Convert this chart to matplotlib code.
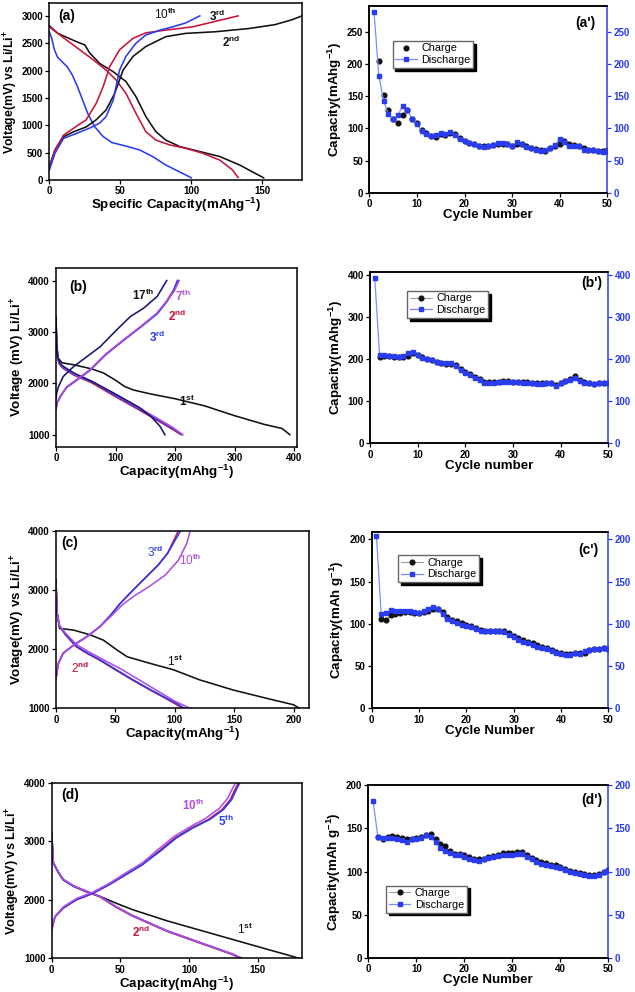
import matplotlib
matplotlib.use('Agg')
import matplotlib.pyplot as plt
from matplotlib.lines import Line2D

plt.rcParams['font.family'] = ['Liberation Sans', 'DejaVu Sans']
plt.rcParams['font.weight'] = 'bold'
plt.rcParams['axes.labelweight'] = 'bold'
plt.rcParams['mathtext.fontset'] = 'custom'
plt.rcParams['mathtext.rm'] = 'Liberation Sans:bold'
plt.rcParams['mathtext.default'] = 'rm'

BLK = '#111111'
RED = '#c8143c'
BLU = '#2a3cf0'
MAG = '#b04ee0'
NAV = '#16166e'
LBLU = '#7f8cff'

# ---------------- (a) voltage profiles ----------------
a2_dis_x = [0, 6, 19, 25, 28.5, 35.5, 45, 54, 61, 68, 75, 82, 92, 106, 120, 134, 143, 151]
a2_dis_y = [2820, 2680, 2530, 2470, 2320, 2130, 1980, 1800, 1525, 1160, 885, 730, 610, 520, 430, 275, 150, 40]
a3_dis_x = [0, 12, 21.5, 31, 40, 47, 54, 61, 68, 75, 85, 96, 108, 120, 129, 133]
a3_dis_y = [2800, 2560, 2380, 2195, 2010, 1830, 1585, 1220, 885, 730, 640, 580, 490, 365, 185, 45]
a10_dis_x = [0, 1.7, 3.6, 5.8, 8.9, 12.6, 16.2, 19.8, 23.4, 27, 31.9, 37.9, 44, 54, 63.6, 73, 82, 91.6, 98.6, 100]
a10_dis_y = [2710, 2590, 2380, 2245, 2165, 2070, 1920, 1710, 1465, 1220, 975, 795, 685, 620, 550, 425, 275, 150, 60, 40]
a2_chg_x = [0, 4, 10, 17, 26, 33, 40, 46, 52, 59, 68, 82, 96, 117, 141, 159, 171, 178]
a2_chg_y = [250, 550, 790, 880, 970, 1100, 1280, 1580, 2010, 2260, 2440, 2620, 2680, 2710, 2770, 2840, 2930, 3000]
a3_chg_x = [0, 4, 10, 19, 26, 33, 38, 42.5, 49.5, 59, 68, 82, 101, 117, 133]
a3_chg_y = [210, 550, 820, 980, 1100, 1400, 1710, 2070, 2380, 2590, 2690, 2740, 2800, 2900, 3000]
a10_chg_x = [0, 4, 10, 19, 28.5, 35.5, 40, 45, 49.5, 54, 61, 68, 78, 87, 96, 106]
a10_chg_y = [180, 490, 760, 850, 950, 1040, 1160, 1460, 2010, 2260, 2500, 2650, 2740, 2800, 2870, 3000]

# ---------------- (b) voltage profiles ----------------
b1_dis_x = [0, 1, 3, 10, 30, 60, 80, 100, 115, 130, 160, 200, 250, 300, 350, 380, 393]
b1_dis_y = [3300, 2800, 2500, 2400, 2360, 2280, 2200, 2060, 1940, 1870, 1790, 1700, 1560, 1370, 1200, 1120, 1000]
b2_dis_x = [0, 1, 3, 6, 12, 30, 60, 100, 140, 170, 195, 210]
b2_dis_y = [3200, 2800, 2480, 2370, 2290, 2160, 2010, 1740, 1480, 1280, 1110, 1000]
b3_dis_x = [0, 1, 3, 6, 12, 30, 60, 100, 140, 170, 195, 212]
b3_dis_y = [3200, 2800, 2480, 2370, 2300, 2170, 2030, 1760, 1500, 1300, 1130, 1000]
b7_dis_x = [0, 1, 3, 6, 12, 30, 60, 100, 140, 170, 195, 213]
b7_dis_y = [3250, 2800, 2490, 2380, 2310, 2180, 2040, 1780, 1520, 1320, 1150, 1000]
b17_dis_x = [0, 1, 3, 6, 12, 30, 60, 100, 140, 160, 175, 183]
b17_dis_y = [3300, 2800, 2520, 2400, 2330, 2200, 2040, 1790, 1530, 1350, 1160, 1000]
b17_chg_x = [0, 1, 4, 12, 29, 52, 74, 102, 125, 147, 170, 186]
b17_chg_y = [1700, 1800, 1930, 2130, 2320, 2520, 2710, 3040, 3300, 3460, 3690, 4000]
b2_chg_x = [0, 2, 7, 18, 35, 57, 85, 113, 142, 170, 186, 197, 205]
b2_chg_y = [1500, 1620, 1740, 1930, 2070, 2260, 2580, 2840, 3100, 3360, 3600, 3800, 4000]
b3_chg_x = [0, 2, 7, 18, 35, 57, 85, 113, 142, 170, 187, 198, 204]
b3_chg_y = [1500, 1620, 1740, 1920, 2060, 2250, 2570, 2830, 3090, 3350, 3600, 3820, 4000]
b7_chg_x = [0, 2, 7, 18, 35, 57, 85, 113, 142, 170, 186, 199, 207]
b7_chg_y = [1500, 1620, 1740, 1930, 2070, 2260, 2580, 2840, 3100, 3370, 3600, 3800, 4000]

# ---------------- (c) voltage profiles ----------------
c1_dis_x = [0, 1, 3, 15, 29, 40, 51, 60, 79, 99, 121, 149, 177, 200, 205]
c1_dis_y = [3170, 2600, 2350, 2320, 2240, 2150, 1990, 1870, 1760, 1650, 1480, 1310, 1170, 1060, 1000]
c2_dis_x = [0, 1, 3, 8, 17, 25, 37, 50, 65, 80, 93, 100, 107]
c2_dis_y = [3050, 2600, 2380, 2240, 2040, 1940, 1810, 1650, 1470, 1300, 1160, 1080, 1000]
c3_dis_x = [0, 1, 3, 8, 17, 25, 37, 50, 65, 80, 93, 101, 108]
c3_dis_y = [3050, 2600, 2390, 2250, 2050, 1950, 1820, 1660, 1480, 1310, 1170, 1090, 1000]
c10_dis_x = [0, 1, 3, 8, 17, 27, 40, 55, 70, 85, 100, 113]
c10_dis_y = [3100, 2600, 2400, 2270, 2080, 1960, 1820, 1660, 1480, 1300, 1120, 1000]
c2_chg_x = [0, 1, 2, 6, 15, 26, 37, 45, 54, 65, 76, 86, 94, 99, 103]
c2_chg_y = [1500, 1640, 1760, 1930, 2070, 2210, 2380, 2550, 2770, 3000, 3220, 3420, 3620, 3830, 4000]
c3_chg_x = [0, 1, 2, 6, 15, 26, 37, 45, 54, 65, 76, 86, 94, 100, 105]
c3_chg_y = [1500, 1640, 1760, 1930, 2070, 2210, 2380, 2550, 2770, 3000, 3220, 3420, 3620, 3830, 4000]
c10_chg_x = [0, 1, 2, 6, 15, 26, 37, 46, 56, 66, 78, 92, 103, 110, 113]
c10_chg_y = [1500, 1640, 1760, 1930, 2070, 2210, 2380, 2550, 2750, 2900, 3050, 3250, 3500, 3780, 4000]

# ---------------- (d) voltage profiles ----------------
d1_dis_x = [0, 1.2, 5, 8.5, 16, 25, 35, 47, 59, 84, 108, 132, 156, 172, 180]
d1_dis_y = [3150, 2630, 2460, 2340, 2230, 2140, 2060, 1940, 1830, 1640, 1480, 1320, 1160, 1055, 1000]
d2_dis_x = [0, 1.2, 5, 8.5, 16, 25, 35, 47, 59, 84, 108, 132, 137]
d2_dis_y = [3100, 2630, 2460, 2340, 2230, 2140, 2050, 1870, 1720, 1460, 1260, 1060, 1000]
d5_dis_x = [0, 1.2, 5, 8.5, 16, 25, 35, 47, 59, 84, 108, 132, 138]
d5_dis_y = [3150, 2630, 2460, 2340, 2230, 2150, 2060, 1880, 1730, 1470, 1270, 1070, 1000]
d10_dis_x = [0, 1.2, 5, 8.5, 16, 25, 35, 47, 59, 84, 108, 132, 139]
d10_dis_y = [3150, 2640, 2470, 2350, 2240, 2150, 2060, 1880, 1730, 1470, 1270, 1070, 1000]
d5_chg_x = [0, 2.4, 8.5, 18, 30, 42, 54, 66, 79, 91, 103, 115, 125, 131, 135, 137]
d5_chg_y = [1490, 1710, 1860, 2000, 2110, 2260, 2430, 2600, 2830, 3060, 3230, 3370, 3540, 3710, 3910, 4000]
d2_chg_x = [0, 2.4, 8.5, 18, 30, 42, 54, 66, 78, 90, 102, 114, 124, 130, 134, 136]
d2_chg_y = [1490, 1710, 1860, 2000, 2110, 2260, 2430, 2600, 2830, 3060, 3230, 3370, 3540, 3710, 3910, 4000]
d10_chg_x = [0, 2.4, 8.5, 18, 30, 42, 54, 66, 77, 89, 101, 112, 122, 128, 132, 134]
d10_chg_y = [1490, 1720, 1880, 2020, 2130, 2280, 2460, 2630, 2850, 3080, 3250, 3390, 3560, 3730, 3920, 4000]

# ---------------- cycling data ----------------
chg_cycles = list(range(2, 51))
dis_cycles = list(range(1, 51))

a_charge = [205, 152, 128, 115, 108, 121, 128, 115, 108, 97, 92, 88, 86, 91, 90, 93, 91, 85, 80, 77,
            75, 73, 72, 72, 74, 76, 76, 76, 73, 75, 76, 72, 70, 68, 66, 65, 69, 73, 76, 80,
            76, 74, 73, 69, 67, 66, 64, 64, 65]
a_discharge = [280, 182, 143, 122, 114, 120, 135, 128, 115, 107, 96, 91, 88, 90, 93, 91, 94, 89, 84, 80,
               77, 75, 73, 71, 72, 74, 77, 77, 75, 72, 78, 75, 71, 69, 67, 65, 66, 70, 74, 83,
               78, 73, 72, 72, 67, 66, 66, 64, 63, 66]
b_charge = [206, 207, 207, 206, 205, 206, 208, 214, 210, 204, 200, 197, 193, 190, 189, 189, 185, 177, 170, 164,
            158, 152, 146, 145, 145, 146, 147, 147, 146, 146, 145, 145, 144, 142, 142, 143, 144, 139, 144, 148,
            152, 159, 151, 146, 144, 141, 143, 144, 144]
b_discharge = [393, 210, 210, 208, 207, 205, 207, 215, 216, 209, 203, 200, 197, 193, 190, 190, 190, 183, 175, 167,
               161, 156, 150, 144, 143, 144, 145, 145, 146, 145, 145, 144, 144, 142, 140, 141, 142, 142, 137, 143,
               147, 151, 154, 147, 143, 142, 140, 142, 143, 143]
c_charge = [106, 104, 110, 112, 113, 114, 114, 113, 113, 114, 115, 118, 118, 114, 108, 105, 103, 101, 99, 97,
            95, 93, 92, 92, 92, 92, 91, 89, 86, 83, 81, 79, 77, 75, 72, 71, 69, 67, 65, 64,
            64, 65, 66, 66, 69, 70, 70, 71, 70]
c_discharge = [204, 112, 113, 116, 115, 115, 115, 115, 114, 113, 115, 117, 120, 117, 112, 106, 103, 101, 99, 97,
               96, 94, 92, 92, 92, 92, 92, 90, 87, 84, 81, 79, 77, 75, 73, 71, 70, 68, 66, 64,
               63, 63, 65, 64, 68, 69, 70, 70, 71, 70]
d_charge = [140, 137, 140, 141, 140, 139, 137, 138, 139, 140, 142, 143, 138, 132, 129, 124, 120, 120, 119, 117,
            115, 114, 115, 117, 118, 119, 121, 121, 121, 122, 122, 119, 116, 113, 111, 110, 108, 107, 105, 103,
            101, 99, 98, 97, 96, 96, 97, 100, 102]
d_discharge = [181, 140, 139, 139, 139, 137, 136, 134, 137, 138, 139, 142, 140, 134, 127, 124, 121, 119, 119, 117,
               115, 113, 112, 114, 116, 117, 118, 119, 119, 119, 120, 120, 117, 114, 111, 109, 107, 106, 105, 104,
               102, 100, 98, 97, 96, 95, 95, 96, 99, 102]

W, H = 635, 992
fig = plt.figure(figsize=(W / 100, H / 100), dpi=100)


def box(l, t, r, b):
    return [l / W, 1 - b / H, (r - l) / W, (b - t) / H]


def style(ax, fs=7.0):
    ax.tick_params(direction='out', length=3, width=0.9, labelsize=fs, pad=1.5)
    for lbl in ax.get_xticklabels() + ax.get_yticklabels():
        lbl.set_fontweight('bold')
    for s in ax.spines.values():
        s.set_linewidth(1.1)


lw = 1.15
LBL = 9.6


def volt_panel(rect, curves, xlim, ylim, xticks, yticks, xlabel, ylabel, labels, tag, tagxy,
               ylfs=LBL):
    ax = fig.add_axes(rect)
    for x, y, c in curves:
        ax.plot(x, y, color=c, lw=lw)
    ax.set_xlim(*xlim)
    ax.set_ylim(*ylim)
    ax.set_xticks(xticks)
    ax.set_yticks(yticks)
    ax.set_xlabel(xlabel, fontsize=LBL, fontweight='bold', labelpad=0)
    ax.set_ylabel(ylabel, fontsize=ylfs, fontweight='bold', labelpad=1)
    for txt, x, y, c, w in labels:
        ax.text(x, y, txt, color=c, fontsize=8.5, ha='center', va='center', fontweight=w)
    ax.text(tagxy[0], tagxy[1], tag, fontsize=10, fontweight='bold', ha='center', va='center')
    style(ax)
    return ax


def cyc_panel(rect, chg, dis, ylim, yticks, xlabel, ylabel, leg_xy, tag, tagxy, chg_line=True):
    ax = fig.add_axes(rect)
    ax.plot(chg_cycles, chg, color='#888888' if chg_line else 'none', lw=0.6,
            marker='o', ms=3.4, mfc=BLK, mec=BLK, zorder=3)
    ax.plot(dis_cycles, dis, color=LBLU, lw=0.9, marker='s', ms=3.2,
            mfc=BLU, mec=BLU, zorder=4)
    ax.set_xlim(0, 50)
    ax.set_ylim(*ylim)
    ax.set_xticks([0, 10, 20, 30, 40, 50])
    ax.set_yticks(yticks)
    ax.set_xlabel(xlabel, fontsize=LBL, fontweight='bold', labelpad=0)
    ax.set_ylabel(ylabel, fontsize=LBL, fontweight='bold', labelpad=2)
    style(ax)
    ax.spines['right'].set_visible(False)
    ax2 = ax.twinx()
    ax2.set_ylim(*ylim)
    ax2.set_yticks(yticks)
    style(ax2)
    ax2.tick_params(axis='y', colors=BLU, labelcolor=BLU)
    ax2.spines['right'].set_color(BLU)
    handles = [Line2D([], [], color='#888888' if chg_line else 'none', lw=0.6, marker='o', ms=3.4,
                      mfc=BLK, mec=BLK, label='Charge'),
               Line2D([], [], color=LBLU, lw=0.9, marker='s', ms=3.2, mfc=BLU, mec=BLU,
                      label='Discharge')]
    leg = ax.legend(handles=handles, loc='upper left', bbox_to_anchor=leg_xy, frameon=True,
                    fancybox=False, shadow={'color': 'black', 'alpha': 1.0}, edgecolor='#666666',
                    prop={'weight': 'normal', 'size': 7.8}, borderpad=0.25, handlelength=2.0,
                    labelspacing=0.15, handletextpad=0.4, borderaxespad=0, framealpha=1)
    leg.set_zorder(10)
    ax.text(tagxy[0], tagxy[1], tag, transform=ax.transAxes, fontsize=10, fontweight='bold',
            ha='center', va='center')
    return ax


# (a)
volt_panel(box(49.3, 3.3, 302, 180),
           [(a2_dis_x, a2_dis_y, BLK), (a3_dis_x, a3_dis_y, RED), (a10_dis_x, a10_dis_y, BLU),
            (a2_chg_x, a2_chg_y, BLK), (a3_chg_x, a3_chg_y, RED), (a10_chg_x, a10_chg_y, BLU)],
           (0, 178), (0, 3230), [0, 50, 100, 150], [0, 500, 1000, 1500, 2000, 2500, 3000],
           r'Specific Capacity(mAhg$^{-1}$)', r'Voltage(mV) vs Li/Li$^{+}$',
           [(r'10$^{th}$', 82, 3030, BLK, 'normal'), (r'3$^{rd}$', 118.5, 2990, BLK, 'bold'),
            (r'2$^{nd}$', 128, 2510, BLK, 'bold')],
           '(a)', (12, 3000), ylfs=8.8)

# (b)
volt_panel(box(56, 267.7, 297, 446.7),
           [(b1_dis_x, b1_dis_y, BLK), (b2_dis_x, b2_dis_y, RED), (b3_dis_x, b3_dis_y, BLU),
            (b7_dis_x, b7_dis_y, MAG), (b17_dis_x, b17_dis_y, NAV),
            (b17_chg_x, b17_chg_y, NAV), (b2_chg_x, b2_chg_y, RED), (b3_chg_x, b3_chg_y, BLU),
            (b7_chg_x, b7_chg_y, MAG)],
           (0, 405), (766, 4250), [0, 100, 200, 300, 400], [1000, 2000, 3000, 4000],
           r'Capacity(mAhg$^{-1}$)', r'Voltage (mV) Li/Li$^{+}$',
           [(r'17$^{th}$', 147, 3720, BLK, 'bold'), (r'7$^{th}$', 214, 3700, MAG, 'bold'),
            (r'2$^{nd}$', 203, 3310, RED, 'bold'), (r'3$^{rd}$', 170, 2896, BLU, 'bold'),
            (r'1$^{st}$', 220, 1643, BLK, 'bold')],
           '(b)', (37.6, 3883))

# (c)
volt_panel(box(56, 530.7, 309, 708.3),
           [(c1_dis_x, c1_dis_y, BLK), (c2_dis_x, c2_dis_y, RED), (c3_dis_x, c3_dis_y, BLU),
            (c10_dis_x, c10_dis_y, MAG), (c2_chg_x, c2_chg_y, RED), (c3_chg_x, c3_chg_y, BLU),
            (c10_chg_x, c10_chg_y, MAG)],
           (0, 213), (1000, 4000), [0, 50, 100, 150, 200], [1000, 2000, 3000, 4000],
           r'Capacity(mAhg$^{-1}$)', r'Votage(mV) vs Li/Li$^{+}$',
           [(r'3$^{rd}$', 83.4, 3628, BLU, 'normal'), (r'10$^{th}$', 113, 3505, MAG, 'normal'),
            (r'2$^{nd}$', 20, 1675, RED, 'normal'), (r'1$^{st}$', 100, 1788, BLK, 'normal')],
           '(c)', (11.8, 3786))

# (d)
volt_panel(box(51.7, 782.7, 301.7, 958.3),
           [(d1_dis_x, d1_dis_y, BLK), (d2_dis_x, d2_dis_y, RED), (d5_dis_x, d5_dis_y, BLU),
            (d10_dis_x, d10_dis_y, MAG), (d2_chg_x, d2_chg_y, RED), (d5_chg_x, d5_chg_y, BLU),
            (d10_chg_x, d10_chg_y, MAG)],
           (0, 182), (1000, 4000), [0, 50, 100, 150], [1000, 2000, 3000, 4000],
           r'Capacity(mAhg$^{-1}$)', r'Voltage(mV) vs Li/Li$^{+}$',
           [(r'10$^{th}$', 103, 3611, MAG, 'bold'), (r'5$^{th}$', 127, 3343, BLU, 'bold'),
            (r'2$^{nd}$', 65.3, 1440, RED, 'bold'), (r'1$^{st}$', 141, 1497, BLK, 'normal')],
           '(d)', (13.3, 3783), ylfs=9.2)

# (a')
cyc_panel(box(369.3, 6, 607.3, 192.7), a_charge, a_discharge, (0, 290), [0, 50, 100, 150, 200, 250],
          'Cycle Number', r'Capacity(mAhg$^{-1}$)', (0.098, 0.814), "(a')", (0.906, 0.907),
          chg_line=False)
# (b')
cyc_panel(box(370, 272.3, 608.3, 443.3), b_charge, b_discharge, (0, 406), [0, 100, 200, 300, 400],
          'Cycle number', r'Capacity(mAhg$^{-1}$)', (0.157, 0.892), "(b')", (0.93, 0.936))
# (c')
cyc_panel(box(371.7, 531.7, 608.3, 708.3), c_charge, c_discharge, (0, 209), [0, 50, 100, 150, 200],
          'Cycle Number', r'Capacity(mAh g$^{-1}$)', (0.113, 0.868), "(c')", (0.915, 0.896))
# (d')
cyc_panel(box(368.3, 785, 608.3, 958), d_charge, d_discharge, (0, 200), [0, 50, 100, 150, 200],
          'Cycle Number', r'Capacity(mAh g$^{-1}$)', (0.074, 0.419), "(d')", (0.93, 0.914))

fig.savefig('out.png', dpi=100, facecolor='white')
